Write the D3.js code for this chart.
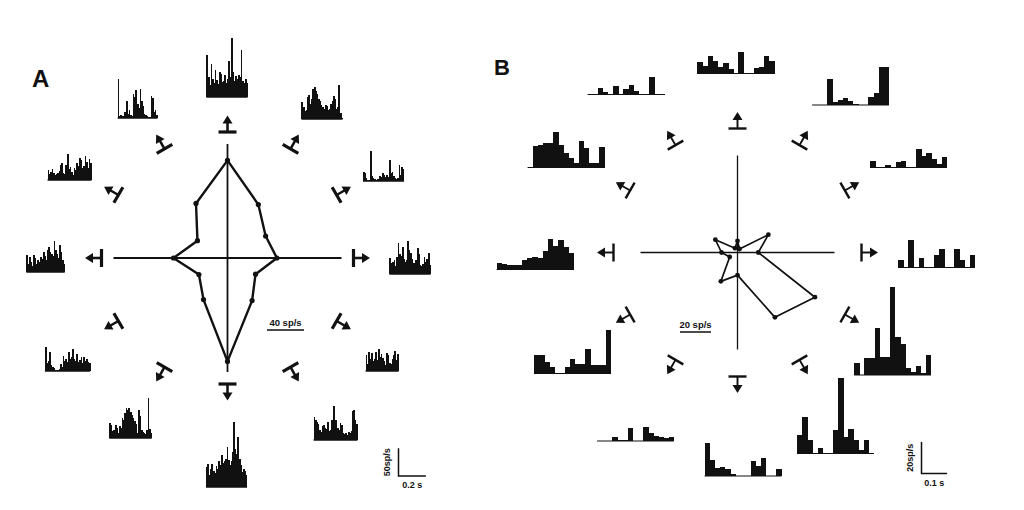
<!DOCTYPE html>
<html>
<head>
<meta charset="utf-8">
<script src="https://cdnjs.cloudflare.com/ajax/libs/d3/7.8.5/d3.min.js"></script>
<style>
  body { margin: 0; background: #fff; }
  text { font-family: "Liberation Sans", Arial, sans-serif; fill: #111; }
</style>
</head>
<body>
<svg id="fig"></svg>
<script>
// stimulus directions, degrees clockwise from up
var directions = [0, 30, 60, 90, 120, 150, 180, 210, 240, 270, 300, 330];

// mean response (sp/s) per direction, polar plots
var polarA = [105.5, 66.7, 47.6, 53.4, 35, 53.2, 111.8, 51.9, 35.7, 58.4, 37.5, 68.1];
var polarB = [7.5, 2.6, 23, 13.4, 57.7, 48.3, 14.6, 21.5, 5.8, 10.3, 16.5, 3.2];

// PSTHs, panel A (10 ms bins, sp/s), one per direction
var histA = [
  [76, 36, 22, 60, 32, 25, 49, 31, 23, 45, 42, 27, 29, 40, 25, 32, 65, 36, 106, 45, 29, 38, 32, 40, 36, 85, 29, 25, 32, 25],
  [31, 22, 14, 16, 40, 43, 27, 36, 54, 58, 51, 45, 36, 32, 25, 22, 18, 25, 23, 16, 18, 27, 32, 42, 36, 18, 22, 61, 11, 2],
  [16, 14, 5, 2, 2, 54, 9, 5, 4, 2, 4, 4, 9, 7, 14, 11, 7, 11, 7, 38, 14, 16, 9, 5, 4, 5, 29, 11, 25, 22],
  [29, 20, 22, 25, 14, 31, 56, 36, 32, 49, 27, 22, 25, 60, 43, 38, 27, 20, 18, 25, 47, 36, 16, 14, 18, 31, 22, 27, 38, 16],
  [29, 13, 34, 22, 32, 18, 22, 34, 20, 40, 25, 31, 23, 18, 11, 32, 29, 14, 13, 22, 29, 36, 20, 31],
  [42, 36, 32, 29, 18, 14, 25, 27, 22, 20, 32, 16, 18, 36, 61, 29, 36, 22, 18, 31, 27, 13, 11, 13, 9, 14, 13, 16, 52, 54, 36, 29],
  [36, 42, 22, 32, 42, 29, 25, 38, 32, 47, 40, 58, 43, 47, 51, 72, 49, 40, 47, 63, 117, 69, 60, 90, 51, 40, 27, 32, 29, 22],
  [27, 23, 13, 14, 23, 18, 9, 22, 18, 36, 32, 45, 54, 51, 54, 47, 42, 36, 31, 25, 9, 51, 40, 14, 11, 9, 7, 14, 72, 16, 9],
  [43, 14, 18, 34, 11, 7, 5, 2, 2, 2, 4, 13, 7, 27, 18, 22, 16, 34, 22, 25, 40, 22, 18, 31, 16, 20, 25, 14, 25, 18, 22, 16, 14],
  [31, 14, 27, 18, 11, 31, 25, 14, 22, 18, 27, 23, 36, 29, 22, 40, 45, 36, 32, 29, 56, 40, 32, 25, 49, 36, 22, 14],
  [18, 11, 14, 20, 13, 9, 11, 13, 16, 27, 31, 13, 11, 27, 47, 20, 23, 14, 9, 22, 18, 31, 25, 40, 36, 22, 25, 43, 32, 22, 38, 31],
  [70, 4, 5, 4, 2, 11, 31, 7, 14, 5, 4, 43, 38, 51, 25, 18, 52, 31, 22, 7, 5, 4, 2, 2, 40, 36, 11, 14, 5]
];

// PSTHs, panel B (20 ms bins, sp/s)
var histB = [
  [7, 5, 10.8, 7.6, 4.4, 6.5, 2.7, 0.6, 13.3, 0, 0.6, 3.3, 4.4, 11.2, 7.6],
  [0.3, 0.3, 0.3, 16.5, 1.9, 3.2, 4.4, 2.5, 0.6, 0, 0, 5.1, 7.6, 24, 24],
  [4.4, 0.6, 0.6, 1.3, 0.3, 3.2, 3.8, 0.6, 0.6, 12, 7, 8.9, 5.1, 2, 6.5],
  [4.6, 0, 17.3, 0.6, 6.3, 0, 0.3, 8.2, 11.4, 0, 0, 12, 4.6, 0.3, 8.2],
  [7.4, 0, 10.6, 10.6, 29.6, 11.2, 11.2, 55.9, 23.9, 19.6, 4.2, 2.1, 5.7, 1.1, 12.7],
  [11.6, 23.2, 8.4, 0.3, 3.2, 0, 0.3, 14.7, 47.5, 10.6, 15.2, 8.4, 2.5, 8.4, 0.6],
  [20.7, 10.1, 4.9, 5.7, 4.2, 1.3, 0, 0, 0.3, 9.5, 6.3, 11.2, 0.3, 0, 4.2],
  [0.2, 0.2, 0.2, 2.7, 0.6, 0.6, 8, 0.2, 0.2, 8.7, 4.9, 3.2, 2.7, 1.7, 2.3],
  [11.6, 11.6, 7.4, 4.2, 0.6, 0.6, 4.2, 8.9, 6.3, 6.3, 15.2, 5.3, 5.3, 5.3, 27.8],
  [4.2, 3.4, 2.7, 2.7, 2.7, 6.3, 7, 7.6, 7, 11.8, 19, 14.7, 18.5, 14.4, 10.6],
  [0.2, 13.3, 14.4, 15.4, 15.4, 22.2, 14.4, 9.1, 5.9, 2.7, 16.5, 12.2, 2.7, 2.7, 12.8],
  [0.2, 0.2, 3.8, 1.3, 0.2, 5.1, 0.2, 3.2, 5.7, 1.9, 0.2, 0.2, 11.2, 0.2, 0.2]
];

var W = 1024, H = 510;
var svg = d3.select("#fig").attr("width", W).attr("height", H);

// layout: where each PSTH sits (box centre x, baseline y), relative to polar centre
var slotsA = [[-0.5, -161], [94.5, -139], [156, -77], [182.5, 16], [154.5, 113], [108, 182],
              [-1, 229], [-97, 180], [-160, 113], [-182, 14], [-158, -78], [-90, -140]];
var slotsB = [[-1.7, -179], [113, -147.5], [171, -85], [199, 15], [155, 122.5], [98, 201],
              [5.5, 223.5], [-102, 188.5], [-165, 121], [-202.5, 17], [-171.5, -85], [-111.5, -158]];

var panels = [
  { name: "A", lx: 32, ly: 87, lsize: 24, cx: 227.5, cy: 258, axisR: 114, polar: polarA, hist: histA, slots: slotsA,
    rScale: d3.scaleLinear().domain([0, 40]).range([0, 37]), rBar: 40, rBarPos: [267, 330], rLabel: "40 sp/s",
    tScale: d3.scaleLinear().domain([0, 0.2]).range([0, 27.4]), bin: 0.01,
    yScale: d3.scaleLinear().domain([0, 50]).range([0, 27.7]),
    scaleBar: [398.5, 476], yBar: 50, tBar: 0.2, yLabel: "50sp/s", tLabel: "0.2 s",
    polyW: 2.4, dotR: 2.6, axisW: 1.8, armR: 126, armW: 3.2, base: 1.6 },
  { name: "B", lx: 494, ly: 75, lsize: 22, cx: 737.5, cy: 252.5, axisR: 97, polar: polarB, hist: histB, slots: slotsB,
    rScale: d3.scaleLinear().domain([0, 20]).range([0, 31]), rBar: 20, rBarPos: [680, 332], rLabel: "20 sp/s",
    tScale: d3.scaleLinear().domain([0, 0.1]).range([0, 25.6]), bin: 0.02,
    yScale: d3.scaleLinear().domain([0, 20]).range([0, 31.6]),
    scaleBar: [921.5, 473.5], yBar: 20, tBar: 0.1, yLabel: "20sp/s", tLabel: "0.1 s",
    polyW: 1.7, dotR: 2.4, axisW: 1.3, armR: 124, armW: 2.4, base: 1.2 }
];

panels.forEach(function(p) {
  var g = svg.append("g");

  g.append("text").attr("x", p.lx).attr("y", p.ly)
    .style("font-size", p.lsize + "px").style("font-weight", "bold").text(p.name);

  // cross-hair axes
  var c = g.append("g").attr("transform", "translate(" + p.cx + "," + p.cy + ")");
  c.append("line").attr("x1", -p.axisR).attr("x2", p.axisR).attr("y1", 0).attr("y2", 0)
    .attr("stroke", "#111").attr("stroke-width", p.axisW);
  c.append("line").attr("x1", 0).attr("x2", 0).attr("y1", -p.axisR).attr("y2", p.axisR)
    .attr("stroke", "#111").attr("stroke-width", p.axisW);

  // polar tuning curve
  var pts = directions.map(function(d, i) { return { a: d, v: p.polar[i] }; });
  var radial = d3.lineRadial()
    .angle(function(d) { return d.a * Math.PI / 180; })
    .radius(function(d) { return p.rScale(d.v); })
    .curve(d3.curveLinearClosed);
  c.append("path").attr("d", radial(pts)).attr("fill", "none")
    .attr("stroke", "#111").attr("stroke-width", p.polyW).attr("stroke-linejoin", "round");
  c.selectAll("circle.pt").data(pts).enter().append("circle")
    .attr("cx", function(d) { return Math.sin(d.a * Math.PI / 180) * p.rScale(d.v); })
    .attr("cy", function(d) { return -Math.cos(d.a * Math.PI / 180) * p.rScale(d.v); })
    .attr("r", p.dotR).attr("fill", "#111");

  // direction symbols (bar + arrow pointing outward)
  var arms = c.selectAll("g.arm").data(directions).enter().append("g")
    .attr("transform", function(d) { return "rotate(" + d + ")"; });
  arms.append("line").attr("x1", -9).attr("x2", 9).attr("y1", -p.armR).attr("y2", -p.armR)
    .attr("stroke", "#111").attr("stroke-width", p.armW);
  arms.append("line").attr("x1", 0).attr("x2", 0).attr("y1", -p.armR).attr("y2", -p.armR - 10)
    .attr("stroke", "#111").attr("stroke-width", p.armW * 0.8);
  arms.append("path")
    .attr("d", "M-5," + (-p.armR - 8.5) + "L5," + (-p.armR - 8.5) + "L0," + (-p.armR - 16.5) + "Z")
    .attr("fill", "#111");

  // radius scale bar
  g.append("text").attr("x", p.rBarPos[0] + p.rScale(p.rBar) / 2).attr("y", p.rBarPos[1] - 4)
    .attr("text-anchor", "middle").style("font-size", "9.5px").style("font-weight", "bold").text(p.rLabel);
  g.append("line").attr("x1", p.rBarPos[0]).attr("x2", p.rBarPos[0] + p.rScale(p.rBar))
    .attr("y1", p.rBarPos[1]).attr("y2", p.rBarPos[1]).attr("stroke", "#111").attr("stroke-width", 1.5);

  // PSTHs
  p.hist.forEach(function(vals, i) {
    var width = p.tScale(vals.length * p.bin);
    var x0 = p.cx + p.slots[i][0] - width / 2;
    var y0 = p.cy + p.slots[i][1];
    var h = g.append("g").attr("transform", "translate(" + x0 + "," + y0 + ")");
    h.selectAll("rect").data(vals).enter().append("rect")
      .attr("x", function(d, k) { return p.tScale(k * p.bin); })
      .attr("width", p.tScale(p.bin) + 0.4)
      .attr("y", function(d) { return -p.yScale(d); })
      .attr("height", function(d) { return p.yScale(d); })
      .attr("fill", "#111").attr("shape-rendering", "crispEdges");
    h.append("line").attr("x1", 0).attr("x2", width).attr("y1", 0).attr("y2", 0)
      .attr("stroke", "#111").attr("stroke-width", p.base);
  });

  // PSTH calibration bars
  var sx = p.scaleBar[0], sy = p.scaleBar[1];
  g.append("path")
    .attr("d", "M" + sx + "," + (sy - p.yScale(p.yBar)) + "V" + sy + "H" + (sx + p.tScale(p.tBar)))
    .attr("fill", "none").attr("stroke", "#111").attr("stroke-width", 1.5);
  g.append("text").attr("transform", "translate(" + (sx - 9) + "," + (sy - p.yScale(p.yBar) / 2) + ") rotate(-90)")
    .attr("text-anchor", "middle").style("font-size", "9px").style("font-weight", "bold").text(p.yLabel);
  g.append("text").attr("x", sx + p.tScale(p.tBar) / 2).attr("y", sy + 12)
    .attr("text-anchor", "middle").style("font-size", "9px").style("font-weight", "bold").text(p.tLabel);
});
</script>
</body>
</html>
